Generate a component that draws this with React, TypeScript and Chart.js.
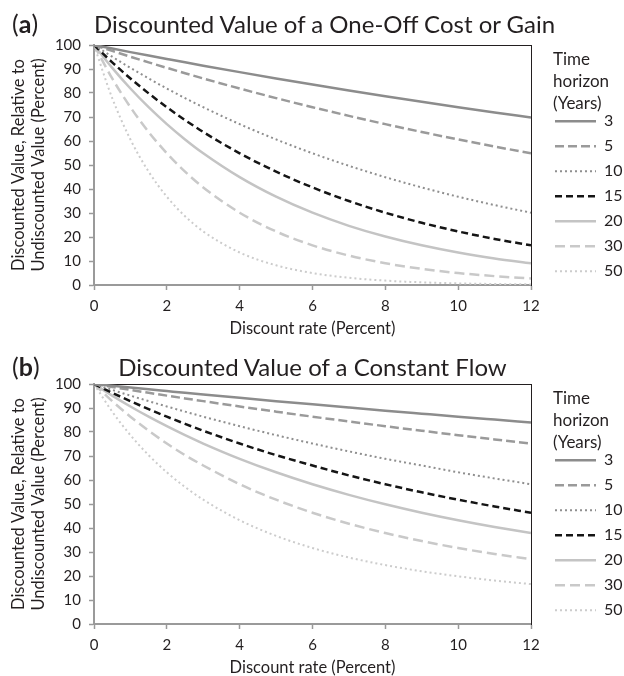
import React, { useEffect, useRef } from 'react';
import { Chart, registerables } from 'chart.js';

Chart.register(...registerables);
Chart.defaults.font.family = 'Lato';
Chart.defaults.color = '#231f20';

// Discount rate (percent) sample points
const rates = [0, 0.5, 1, 1.5, 2, 2.5, 3, 4, 5, 6, 7, 8, 9, 10, 11, 12];
const horizons = ['3', '5', '10', '15', '20', '30', '50'];

// (a) One-off cost or gain, percent of undiscounted value
const oneOff3 = [100, 98.51, 97.04, 95.6, 94.18, 92.77, 91.39, 88.69, 86.07, 83.53, 81.06, 78.66, 76.34, 74.08, 71.89, 69.77];
const oneOff5 = [100, 97.53, 95.12, 92.77, 90.48, 88.25, 86.07, 81.87, 77.88, 74.08, 70.47, 67.03, 63.76, 60.65, 57.69, 54.88];
const oneOff10 = [100, 95.12, 90.48, 86.07, 81.87, 77.88, 74.08, 67.03, 60.65, 54.88, 49.66, 44.93, 40.66, 36.79, 33.29, 30.12];
const oneOff15 = [100, 92.77, 86.07, 79.85, 74.08, 68.73, 63.76, 54.88, 47.24, 40.66, 34.99, 30.12, 25.92, 22.31, 19.2, 16.53];
const oneOff20 = [100, 90.48, 81.87, 74.08, 67.03, 60.65, 54.88, 44.93, 36.79, 30.12, 24.66, 20.19, 16.53, 13.53, 11.08, 9.07];
const oneOff30 = [100, 86.07, 74.08, 63.76, 54.88, 47.24, 40.66, 30.12, 22.31, 16.53, 12.25, 9.07, 6.72, 4.98, 3.69, 2.73];
const oneOff50 = [100, 77.88, 60.65, 47.24, 36.79, 28.65, 22.31, 13.53, 8.21, 4.98, 3.02, 1.83, 1.11, 0.67, 0.41, 0.25];

// (b) Constant flow, percent of undiscounted value
const flow3 = [100, 99.25, 98.51, 97.78, 97.06, 96.34, 95.63, 94.23, 92.86, 91.52, 90.2, 88.9, 87.64, 86.39, 85.18, 83.98];
const flow5 = [100, 98.76, 97.54, 96.34, 95.16, 94, 92.86, 90.63, 88.48, 86.39, 84.38, 82.42, 80.53, 78.69, 76.92, 75.2];
const flow10 = [100, 97.54, 95.16, 92.86, 90.63, 88.48, 86.39, 82.42, 78.69, 75.2, 71.92, 68.83, 66.05, 63.21, 60.65, 58.23];
const flow15 = [100, 96.34, 92.86, 89.55, 86.39, 83.39, 80.53, 75.2, 70.35, 66.05, 61.91, 58.23, 54.87, 51.79, 48.97, 46.37];
const flow20 = [100, 95.16, 90.63, 86.39, 82.42, 78.69, 75.2, 68.83, 63.21, 58.23, 53.82, 49.88, 46.37, 43.23, 40.42, 37.89];
const flow30 = [100, 92.86, 86.39, 80.53, 75.2, 70.35, 66.05, 58.23, 51.79, 46.37, 41.79, 37.89, 34.55, 31.67, 29.19, 27.02];
const flow50 = [100, 88.48, 78.69, 70.35, 63.21, 57.08, 51.79, 43.23, 36.72, 31.67, 27.71, 24.54, 21.98, 19.87, 18.11, 16.63];

const oneOffSeries = [oneOff3, oneOff5, oneOff10, oneOff15, oneOff20, oneOff30, oneOff50];
const flowSeries = [flow3, flow5, flow10, flow15, flow20, flow30, flow50];

const titleA = 'Discounted Value of a One-Off Cost or Gain';
const titleB = 'Discounted Value of a Constant Flow';
const xTitle = 'Discount rate (Percent)';
const yTitle = ['Discounted Value, Relative to', 'Undiscounted Value (Percent)'];
const legendHeading = ['Time', 'horizon', '(Years)'];

// styles
const seriesColors = ['#8c8c8c', '#9a9a9a', '#8f8f8f', '#151515', '#c4c4c4', '#c9c9c9', '#cccccc'];
const seriesDash = [[], [9, 4], [2, 3], [7, 4], [], [10, 5], [2, 3]];
const seriesWidth = [2.5, 2.5, 2, 2.5, 2.5, 2.5, 2];
const TEXT = '#231f20';
const AXIS = '#9a9a9a';

function legendLabels(chart: any) {
  const items = Chart.defaults.plugins.legend.labels.generateLabels(chart);
  return items.map((item: any, i: number) => {
    const ds = chart.data.datasets[item.datasetIndex ?? i];
    return {
      ...item,
      strokeStyle: ds.borderColor,
      fillStyle: ds.borderColor,
      lineDash: ds.borderDash,
      lineWidth: ds.borderWidth,
      lineCap: 'butt',
      pointStyle: 'line',
    };
  });
}

function buildConfig(series: number[][]): any {
  return {
    type: 'line',
    data: {
      datasets: horizons.map((h, i) => ({
        label: h,
        data: rates.map((r, j) => ({ x: r, y: series[i][j] })),
        borderColor: seriesColors[i],
        backgroundColor: seriesColors[i],
        borderDash: seriesDash[i],
        borderWidth: seriesWidth[i],
        pointRadius: 0,
        fill: false,
        cubicInterpolationMode: 'monotone',
      })),
    },
    options: {
      responsive: false,
      animation: false,
      devicePixelRatio: 1,
      events: [],
      layout: { padding: { top: 45, left: 0, right: 0, bottom: 0 } },
      plugins: {
        title: { display: false },
        tooltip: { enabled: false },
        legend: {
          position: 'right',
          align: 'start',
          maxWidth: 78,
          title: { display: true, text: '', font: { size: 16, lineHeight: 1.2 }, padding: { top: 0, bottom: 40 } },
          labels: {
            usePointStyle: true,
            pointStyle: 'line',
            pointStyleWidth: 41,
            padding: 9,
            color: TEXT,
            font: { family: 'Lato', size: 16 },
            generateLabels: legendLabels,
          },
        },
      },
      scales: {
        x: {
          type: 'linear',
          position: 'bottom',
          min: 0,
          max: 12,
          ticks: { stepSize: 2, padding: 7, color: TEXT, font: { size: 15 } },
          grid: { drawOnChartArea: false, drawTicks: true, tickLength: 5, color: AXIS, tickWidth: 1.5 },
          border: { display: true, color: AXIS, width: 2 },
          title: { display: true, text: xTitle, color: TEXT, font: { size: 16.5, lineHeight: 1 }, padding: 0 },
          afterFit: (s: any) => { s.height = 52; },
        },
        y: {
          type: 'linear',
          position: 'left',
          min: 0,
          max: 100,
          ticks: { stepSize: 10, padding: 8, color: TEXT, font: { size: 15 } },
          grid: { drawOnChartArea: false, drawTicks: true, tickLength: 5, color: AXIS, tickWidth: 1.5 },
          border: { display: true, color: AXIS, width: 2 },
          title: { display: true, text: yTitle, color: TEXT, font: { size: 16.5, lineHeight: '20px' }, padding: { top: 9, bottom: 0 } },
          afterFit: (s: any) => { s.width = 94; },
        },
        x2: {
          type: 'linear',
          axis: 'x',
          position: 'top',
          ticks: { display: false },
          grid: { drawOnChartArea: false, drawTicks: false },
          border: { display: true, color: TEXT, width: 1 },
          afterFit: (s: any) => { s.height = 0; },
        },
        y2: {
          type: 'linear',
          axis: 'y',
          position: 'right',
          ticks: { display: false },
          grid: { drawOnChartArea: false, drawTicks: false },
          border: { display: true, color: TEXT, width: 1 },
          afterFit: (s: any) => { s.width = 15; },
        },
      },
    },
  };
}

type PanelProps = { top: number; letter: string; title: string; titleBaseline: number; series: number[][] };

function Panel({ top, letter, title, titleBaseline, series }: PanelProps) {
  const ref = useRef<HTMLCanvasElement>(null);
  useEffect(() => {
    const chart = new Chart(ref.current as HTMLCanvasElement, buildConfig(series));
    return () => chart.destroy();
  }, []);
  const base: React.CSSProperties = { position: 'absolute', fontFamily: 'Lato', color: TEXT, whiteSpace: 'nowrap' };
  return (
    <div style={{ position: 'absolute', left: 0, top, width: 624, height: 337 }}>
      <canvas ref={ref} width={624} height={337} style={{ position: 'absolute', left: 0, top: 0, width: 624, height: 337, display: 'block' }} />
      <div style={{ ...base, left: 12, top: titleBaseline - 0.887 * 25, fontSize: 25, lineHeight: 1 }}>
        (<b>{letter}</b>)
      </div>
      <div style={{ ...base, left: 94, width: 437, textAlign: 'center', top: titleBaseline - 0.887 * 24, fontSize: 24, lineHeight: 1 }}>
        {title}
      </div>
      <div style={{ ...base, left: 553, top: 48, fontSize: 17, lineHeight: '22px' }}>
        {legendHeading.map((t) => (
          <div key={t}>{t}</div>
        ))}
      </div>
    </div>
  );
}

export default function App() {
  return (
    <div style={{ position: 'absolute', left: 0, top: 0, width: 624, height: 676, background: '#fff' }}>
      <Panel top={0} letter="a" title={titleA} titleBaseline={33} series={oneOffSeries} />
      <Panel top={339} letter="b" title={titleB} titleBaseline={37} series={flowSeries} />
    </div>
  );
}
